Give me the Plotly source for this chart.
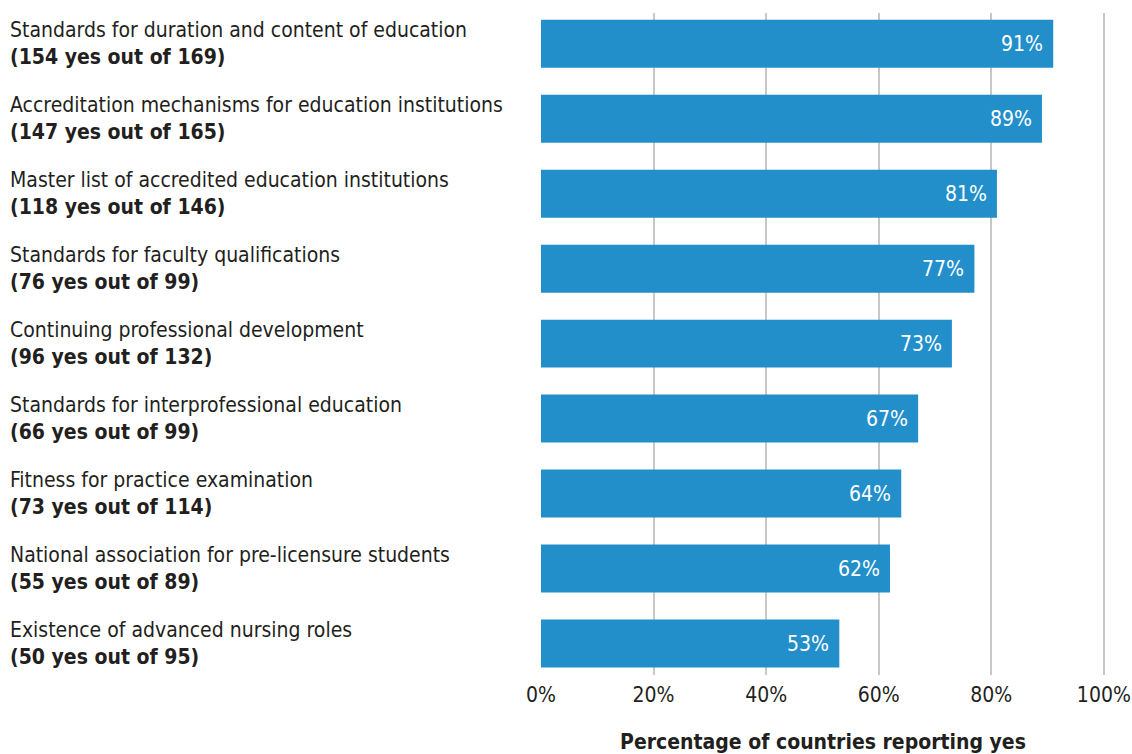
import plotly.graph_objects as go

categories = [
    "Standards for duration and content of education",
    "Accreditation mechanisms for education institutions",
    "Master list of accredited education institutions",
    "Standards for faculty qualifications",
    "Continuing professional development",
    "Standards for interprofessional education",
    "Fitness for practice examination",
    "National association for pre-licensure students",
    "Existence of advanced nursing roles",
]
yes_counts = [154, 147, 118, 76, 96, 66, 73, 55, 50]
totals = [169, 165, 146, 99, 132, 99, 114, 89, 95]
percentages = [91, 89, 81, 77, 73, 67, 64, 62, 53]
tick_values = [0, 20, 40, 60, 80, 100]
tick_labels = ["0%", "20%", "40%", "60%", "80%", "100%"]
axis_title = "Percentage of countries reporting yes"

FONT = "DejaVu Sans Condensed, Roboto, sans-serif"
BLUE = "#228fcb"
TEXT = "#231f20"
FS = 21

fig = go.Figure()
fig.add_trace(go.Bar(
    y=categories,
    x=percentages,
    orientation="h",
    width=0.64,
    marker=dict(color=BLUE, line=dict(width=0)),
    hoverinfo="skip",
))

annotations = []
for cat, y_, t in zip(categories, yes_counts, totals):
    annotations.append(dict(
        x=-533 / 564, xref="paper", xanchor="left",
        y=cat, yref="y", yanchor="middle",
        text=f"{cat}<br><b>({y_} yes out of {t})</b>",
        align="left", showarrow=False,
        font=dict(family=FONT, size=FS, color=TEXT),
    ))
for cat, p in zip(categories, percentages):
    annotations.append(dict(
        x=p, xref="x", xanchor="right", xshift=-8,
        y=cat, yref="y", yanchor="middle",
        text=f"{p}%", showarrow=False,
        font=dict(family=FONT, size=FS, color="white"),
    ))

fig.update_layout(
    width=1132, height=754,
    margin=dict(l=541, r=27, t=13, b=79),
    paper_bgcolor="white", plot_bgcolor="white",
    showlegend=False,
    annotations=annotations,
    xaxis=dict(
        range=[0, 100.2], automargin=False,
        tickvals=tick_values, ticktext=tick_labels,
        showgrid=True, gridcolor="#c8c8c8", gridwidth=2,
        zeroline=False, showline=False,
        tickfont=dict(family=FONT, size=FS, color=TEXT),
        ticks="", ticklabelstandoff=5,
        title=dict(text=f"<b>{axis_title}</b>", standoff=28,
                   font=dict(family=FONT, size=FS, color=TEXT)),
    ),
    yaxis=dict(
        categoryorder="array", categoryarray=categories,
        range=[8.42, -0.41], automargin=False,
        showticklabels=False, showgrid=False, zeroline=False, ticks="",
    ),
)

fig.write_html(
    "out.html",
    config={"displayModeBar": False, "staticPlot": True},
    post_script="document.body.style.margin='0';document.body.style.overflow='hidden';",
)
